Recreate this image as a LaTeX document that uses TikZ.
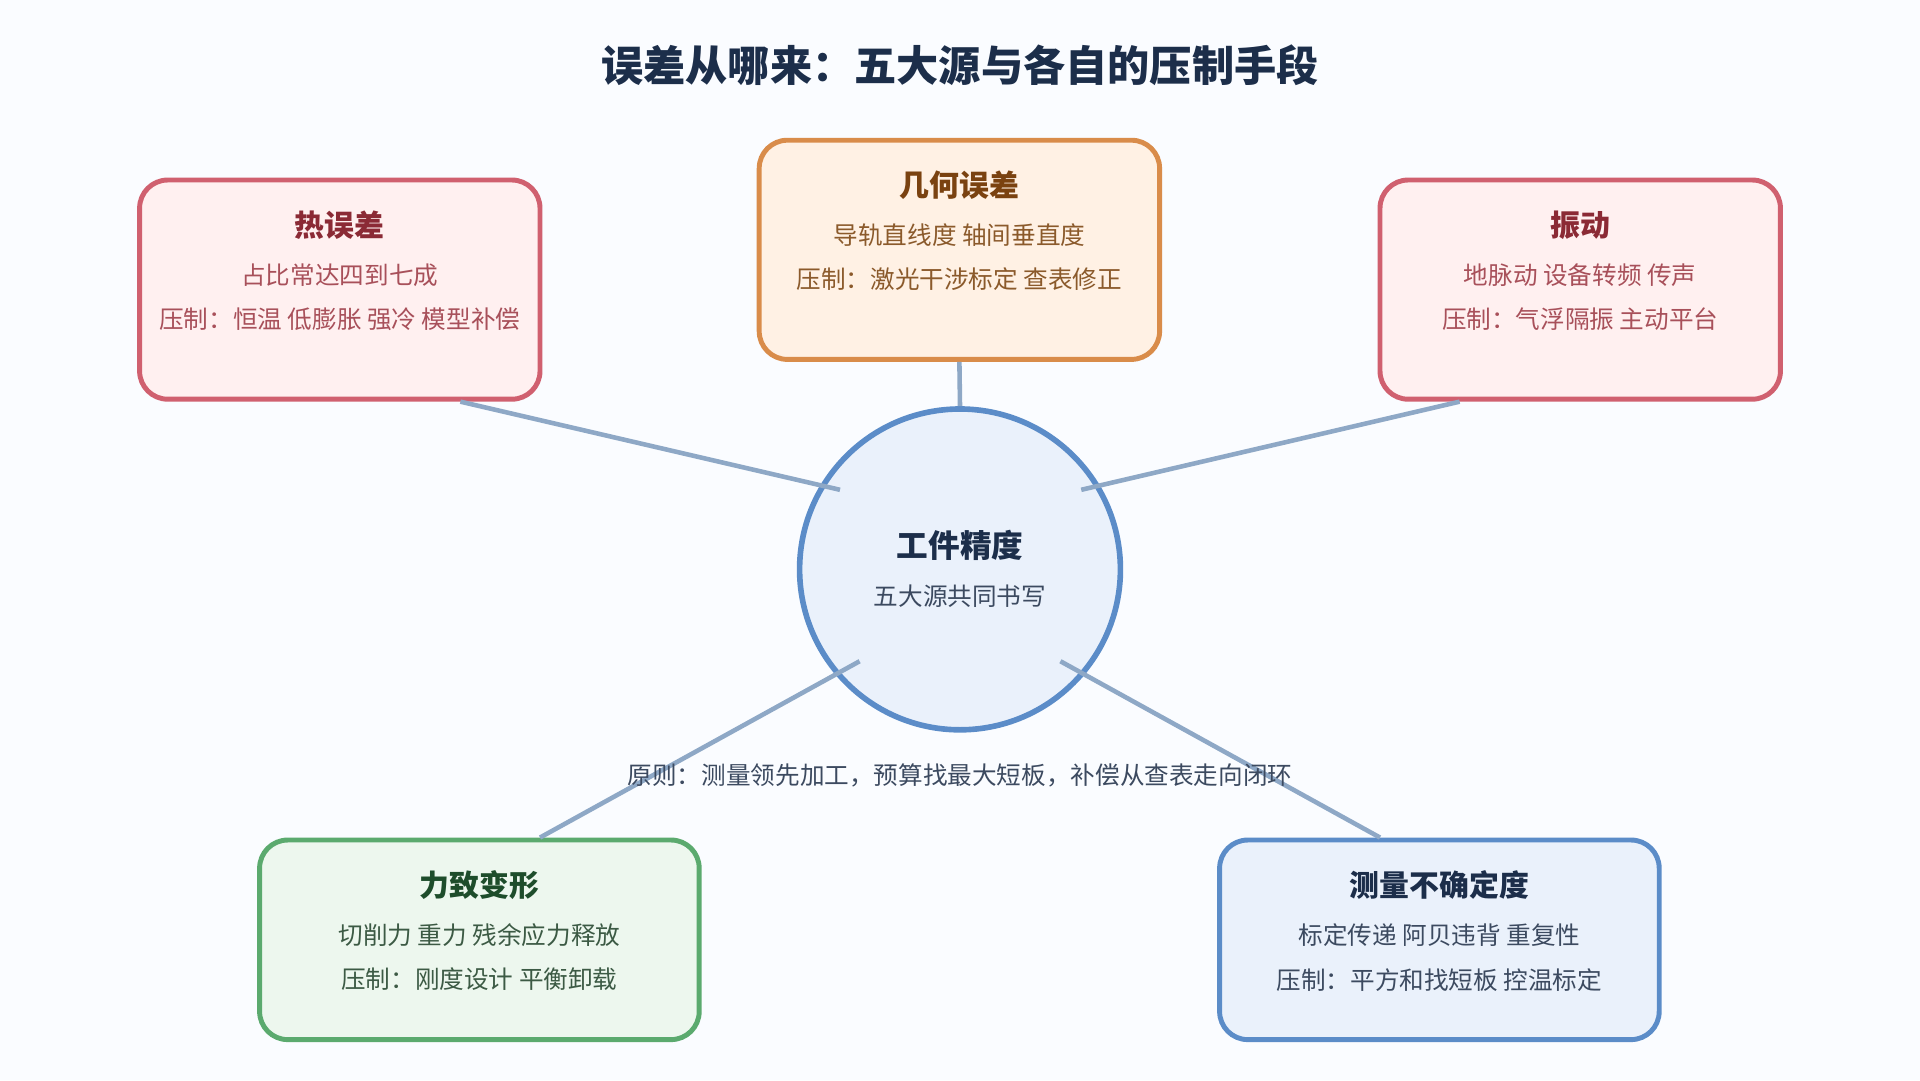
\documentclass[tikz,border=0pt]{standalone}
\usepackage{fontspec}
\setmainfont{Noto Sans CJK SC}
\usetikzlibrary{positioning}
\definecolor{bgc}{HTML}{FAFCFF}
\definecolor{navy}{HTML}{1C2E4A}
\definecolor{linkc}{HTML}{8EA8C6}
\definecolor{redB}{HTML}{D0606F}\definecolor{redF}{HTML}{FFF0F0}
\definecolor{redT}{HTML}{8B2A35}\definecolor{redS}{HTML}{A8505A}
\definecolor{orgB}{HTML}{D98C4A}\definecolor{orgF}{HTML}{FFF1E4}
\definecolor{orgT}{HTML}{7A4210}\definecolor{orgS}{HTML}{8B5A2B}
\definecolor{grnB}{HTML}{5BAA6E}\definecolor{grnF}{HTML}{EDF7EE}
\definecolor{grnT}{HTML}{1E4D2B}\definecolor{grnS}{HTML}{3C5A44}
\definecolor{bluB}{HTML}{5B8CC8}\definecolor{bluF}{HTML}{EAF1FB}
\definecolor{bluT}{HTML}{1C2E4A}\definecolor{bluS}{HTML}{3C4A60}
\tikzset{
  src/.style={draw=#1B, fill=#1F, line width=1.4pt, rounded corners=8pt, align=center, inner sep=0pt},
  link/.style={draw=linkc, line width=1.3pt},
  head/.style={text=#1T, font=\bfseries\fontsize{8.5}{10}\selectfont},
  body/.style={text=#1S, font=\fontsize{7}{8}\selectfont},
}
\begin{document}
\begin{tikzpicture}[x=0.012245cm, y=-0.012245cm]
\fill[bgc] (0,0) rectangle (1568,882);
\node[text=navy, font=\bfseries\fontsize{12}{14}\selectfont] (title) at (784,53) {误差从哪来：五大源与各自的压制手段};
% center
\node[circle, draw=bluB, fill=bluF, line width=1.6pt, minimum size=262*0.012245cm] (core) at (784,465) {};
\node[head=blu, font=\bfseries\fontsize{9}{10}\selectfont] (coreT) at (784,445) {工件精度};
\node[body=blu] (coreS) at (784,487) {五大源共同书写};
% sources
\node[src=red, minimum width=327*0.012245cm, minimum height=179*0.012245cm] (heat) at (277.5,236.5) {};
\node[src=org, minimum width=327*0.012245cm, minimum height=179*0.012245cm] (geom) at (783.5,204) {};
\node[src=red, minimum width=327*0.012245cm, minimum height=179*0.012245cm] (vib) at (1290.5,236.5) {};
\node[src=grn, minimum width=359*0.012245cm, minimum height=163*0.012245cm] (force) at (391.5,767.5) {};
\node[src=blu, minimum width=359*0.012245cm, minimum height=163*0.012245cm] (meas) at (1175.5,767.5) {};
\node[head=red] (heatT) at (277.5,184) {热误差};
\node[body=red] (heatA) at (277.5,225) {占比常达四到七成};
\node[body=red] (heatB) at (277.5,261) {压制：恒温 低膨胀 强冷 模型补偿};
\node[head=org] (geomT) at (783.5,151) {几何误差};
\node[body=org] (geomA) at (783.5,192) {导轨直线度 轴间垂直度};
\node[body=org] (geomB) at (783.5,228) {压制：激光干涉标定 查表修正};
\node[head=red] (vibT) at (1290.5,184) {振动};
\node[body=red] (vibA) at (1290.5,225) {地脉动 设备转频 传声};
\node[body=red] (vibB) at (1290.5,261) {压制：气浮隔振 主动平台};
\node[head=grn] (forceT) at (391.5,723) {力致变形};
\node[body=grn] (forceA) at (391.5,764) {切削力 重力 残余应力释放};
\node[body=grn] (forceB) at (391.5,800) {压制：刚度设计 平衡卸载};
\node[head=blu] (measT) at (1175.5,723) {测量不确定度};
\node[body=blu] (measA) at (1175.5,764) {标定传递 阿贝违背 重复性};
\node[body=blu] (measB) at (1175.5,800) {压制：平方和找短板 控温标定};
% links
\coordinate (heatE) at (686,400);
\coordinate (vibE) at (883,400);
\coordinate (forceE) at (702,540);
\coordinate (measE) at (866,540);
\draw[link] ([xshift=98.5*0.012245cm]heat.south) -- (heatE);
\draw[link] (geom.south) -- (core.north);
\draw[link] ([xshift=-98.5*0.012245cm]vib.south) -- (vibE);
\draw[link] ([xshift=49.5*0.012245cm]force.north) -- (forceE);
\draw[link] ([xshift=-48.5*0.012245cm]meas.north) -- (measE);
\node[body=blu] (rule) at (784,633) {原则：测量领先加工，预算找最大短板，补偿从查表走向闭环};
\end{tikzpicture}
\end{document}
